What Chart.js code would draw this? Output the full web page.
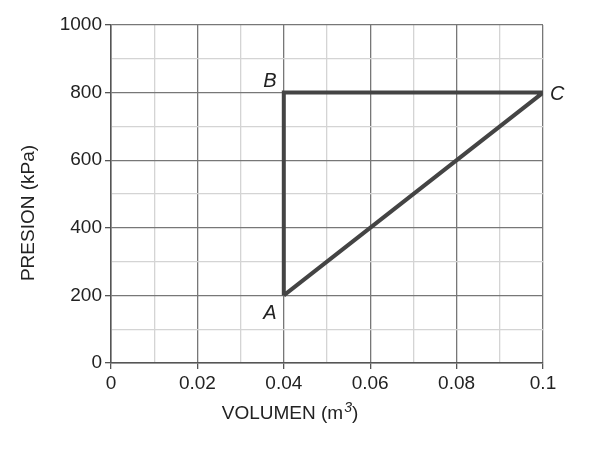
<!DOCTYPE html>
<html>
<head>
<meta charset="utf-8">
<script src="https://cdn.jsdelivr.net/npm/chart.js@4"></script>
<style>
  body { margin: 0; background: #fff; }
  #wrap { width: 612px; height: 454px; }
</style>
</head>
<body>
<div id="wrap"><canvas id="chart" width="612" height="454"></canvas></div>
<script>
// cycle A -> B -> C -> A
var volumen = [0.04, 0.04, 0.1, 0.04];
var presion = [200, 800, 800, 200];
var pointLabels = ['A', 'B', 'C'];

var FONT = '"Liberation Sans", Arial, sans-serif';
var TXT = '#222';

var points = volumen.map(function(v, i) { return { x: v, y: presion[i] }; });

function isMajorX(v) { return Math.round(v * 100) % 2 === 0; }
function isMajorY(v) { return Math.round(v) % 200 === 0; }

// point letters + axis titles (the titles sit off-centre in the original)
var textPlugin = {
  id: 'extraText',
  afterDatasetsDraw: function(chart) {
    var ctx = chart.ctx;
    var xs = chart.scales.x, ys = chart.scales.y;
    ctx.save();
    ctx.fillStyle = TXT;
    ctx.textBaseline = 'middle';
    ctx.font = 'italic 20px ' + FONT;
    var offs = [[-14, 18, 'center'], [-14, -11, 'center'], [7, 2, 'left']];
    pointLabels.forEach(function(lbl, i) {
      var px = xs.getPixelForValue(volumen[i]);
      var py = ys.getPixelForValue(presion[i]);
      ctx.textAlign = offs[i][2];
      ctx.fillText(lbl, px + offs[i][0], py + offs[i][1]);
    });

    // x title with superscript
    ctx.textBaseline = 'alphabetic';
    ctx.textAlign = 'left';
    var big = '19px ' + FONT, small = 'italic 14px ' + FONT;
    ctx.font = big;
    var w1 = ctx.measureText('VOLUMEN (m').width;
    var w3 = ctx.measureText(')').width;
    ctx.font = small;
    var w2 = ctx.measureText('3').width + 1;
    var x0 = 290 - (w1 + w2 + w3) / 2;
    ctx.font = big;
    ctx.fillText('VOLUMEN (m', x0, 419);
    ctx.font = small;
    ctx.fillText('3', x0 + w1 + 1, 412);
    ctx.font = big;
    ctx.fillText(')', x0 + w1 + w2, 419);

    // y title
    ctx.translate(29, 213);
    ctx.rotate(-Math.PI / 2);
    ctx.textAlign = 'center';
    ctx.textBaseline = 'middle';
    ctx.font = '19px ' + FONT;
    ctx.fillText('PRESION (kPa)', 0, 0);
    ctx.restore();
  }
};

new Chart(document.getElementById('chart'), {
  type: 'scatter',
  data: {
    datasets: [{
      data: points,
      showLine: true,
      borderColor: '#444',
      borderWidth: 4,
      pointRadius: 0,
      fill: false
    }]
  },
  options: {
    responsive: false,
    animation: false,
    layout: { padding: { left: 0, right: 69, top: 25, bottom: 30 } },
    plugins: { legend: { display: false }, tooltip: { enabled: false } },
    scales: {
      x: {
        type: 'linear',
        min: 0, max: 0.1,
        border: { display: true, color: '#555', width: 1.5 },
        grid: {
          color: function(c) { return isMajorX(c.tick.value) ? '#777' : '#d4d4d4'; },
          lineWidth: 1.3,
          tickColor: function(c) { return isMajorX(c.tick.value) ? '#555' : 'rgba(0,0,0,0)'; },
          tickLength: 6
        },
        ticks: {
          stepSize: 0.01,
          autoSkip: false,
          maxRotation: 0,
          padding: 3,
          color: TXT,
          font: { size: 19, family: FONT },
          callback: function(v) {
            return isMajorX(v) ? String(Math.round(v * 100) / 100) : '';
          }
        },
        afterFit: function(s) { s.height = 61; }
      },
      y: {
        type: 'linear',
        min: 0, max: 1000,
        border: { display: true, color: '#555', width: 1.5 },
        grid: {
          color: function(c) { return isMajorY(c.tick.value) ? '#777' : '#d4d4d4'; },
          lineWidth: 1.3,
          tickColor: function(c) { return isMajorY(c.tick.value) ? '#555' : 'rgba(0,0,0,0)'; },
          tickLength: 6
        },
        ticks: {
          stepSize: 100,
          autoSkip: false,
          padding: 3,
          color: TXT,
          font: { size: 19, family: FONT },
          callback: function(v) { return isMajorY(v) ? String(v) : ''; }
        },
        afterFit: function(s) { s.width = 111; }
      }
    }
  },
  plugins: [textPlugin]
});
</script>
</body>
</html>
